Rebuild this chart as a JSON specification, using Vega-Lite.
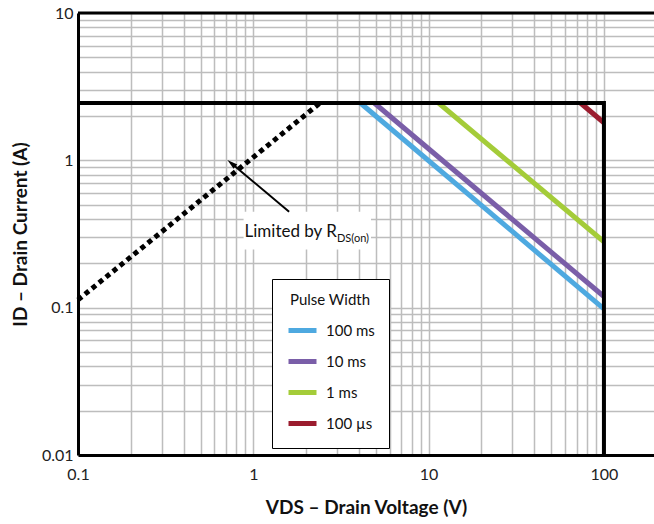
{
  "$schema": "https://vega.github.io/schema/vega-lite/v6.json",
  "width": 576,
  "height": 442,
  "autosize": {"type": "none"},
  "padding": {"left": 78, "top": 13, "right": 0, "bottom": 69},
  "config": {
    "view": {"stroke": null},
    "font": "Lato, Roboto, sans-serif"
  },
  "datasets": {
    "curves": [
      {"pulse": "100 ms", "v": 4.08, "i": 2.45},
      {"pulse": "100 ms", "v": 100, "i": 0.098},
      {"pulse": "10 ms", "v": 4.9, "i": 2.45},
      {"pulse": "10 ms", "v": 100, "i": 0.119},
      {"pulse": "1 ms", "v": 11.4, "i": 2.45},
      {"pulse": "1 ms", "v": 100, "i": 0.28},
      {"pulse": "100 µs", "v": 73.5, "i": 2.45},
      {"pulse": "100 µs", "v": 100, "i": 1.8}
    ],
    "boundary": [
      {"k": 1, "v": 0.1, "i": 2.45},
      {"k": 2, "v": 100, "i": 2.45},
      {"k": 3, "v": 100, "i": 0.01}
    ],
    "rds": [
      {"v": 0.1, "i": 0.113},
      {"v": 2.4, "i": 2.45}
    ],
    "one": [{"a": 1}]
  },
  "layer": [
    {
      "data": {"name": "one"},
      "mark": {"type": "rect", "fill": "white", "stroke": null},
      "encoding": {
        "x": {"datum": 0.88, "type": "quantitative", "scale": {"type": "log", "domain": [0.1, 193], "nice": false},
          "axis": {
            "values": [0.1,0.2,0.3,0.4,0.5,0.6,0.7,0.8,0.9,1,2,3,4,5,6,7,8,9,10,20,30,40,50,60,70,80,90,100],
            "grid": true, "gridColor": "#bdbdbd", "gridWidth": 1.5,
            "ticks": false, "domain": true, "domainColor": "black", "domainWidth": 3,
            "labelExpr": "abs(log(datum.value)/LN10 - round(log(datum.value)/LN10)) < 0.001 ? format(datum.value, '~g') : ''",
            "labelOverlap": false, "labelBound": false, "labelFlush": false,
            "labelFontSize": 16, "labelColor": "#222", "labelPadding": 11,
            "title": "VDS – Drain Voltage (V)", "titleFontSize": 19, "titleFontWeight": "bold", "titleColor": "#111", "titlePadding": 16
          }},
        "x2": {"datum": 4.69},
        "y": {"datum": 0.448, "type": "quantitative", "scale": {"type": "log", "domain": [0.01, 10], "nice": false},
          "axis": {
            "values": [0.01,0.02,0.03,0.04,0.05,0.06,0.07,0.08,0.09,0.1,0.2,0.3,0.4,0.5,0.6,0.7,0.8,0.9,1,2,3,4,5,6,7,8,9,10],
            "grid": true, "gridColor": "#bdbdbd", "gridWidth": 1.5,
            "ticks": false, "domain": true, "domainColor": "black", "domainWidth": 3,
            "labelExpr": "abs(log(datum.value)/LN10 - round(log(datum.value)/LN10)) < 0.001 ? format(datum.value, '~g') : ''",
            "labelOverlap": false, "labelBound": false, "labelFlush": false,
            "labelFontSize": 16, "labelColor": "#222", "labelPadding": 5,
            "title": "ID – Drain Current (A)", "titleFontSize": 19, "titleFontWeight": "bold", "titleColor": "#111", "titlePadding": 11
          }},
        "y2": {"datum": 0.248}
      }
    },
    {
      "data": {"name": "curves"},
      "mark": {"type": "line", "strokeWidth": 5},
      "encoding": {
        "x": {"field": "v", "type": "quantitative"},
        "y": {"field": "i", "type": "quantitative"},
        "color": {"field": "pulse", "type": "nominal",
          "scale": {"domain": ["100 ms", "10 ms", "1 ms", "100 µs"], "range": ["#4ea9e0", "#7a5ea8", "#a4cc39", "#9b1c2e"]},
          "legend": {
            "orient": "none", "legendX": 194, "legendY": 266,
            "title": "Pulse Width", "titleFontSize": 15, "titleFontWeight": "normal", "titleColor": "#111", "titleAnchor": "middle", "titlePadding": 6,
            "labelFontSize": 15, "labelColor": "#111", "labelOffset": 7,
            "symbolType": "stroke", "symbolSize": 784, "symbolStrokeWidth": 5,
            "rowPadding": 4, "padding": 14,
            "fillColor": "white", "strokeColor": "black"
          }}
      }
    },
    {
      "data": {"name": "boundary"},
      "mark": {"type": "line", "color": "black", "strokeWidth": 4, "strokeJoin": "miter"},
      "encoding": {
        "x": {"field": "v", "type": "quantitative"},
        "y": {"field": "i", "type": "quantitative"},
        "order": {"field": "k"}
      }
    },
    {
      "data": {"name": "rds"},
      "mark": {"type": "line", "color": "black", "strokeWidth": 5, "strokeDash": [5, 4]},
      "encoding": {
        "x": {"field": "v", "type": "quantitative"},
        "y": {"field": "i", "type": "quantitative"}
      }
    },
    {
      "data": {"name": "one"},
      "mark": {"type": "rule", "color": "black", "strokeWidth": 3},
      "encoding": {"y": {"datum": 10}}
    },
    {
      "data": {"name": "one"},
      "mark": {"type": "rule", "color": "black", "strokeWidth": 2},
      "encoding": {
        "x": {"datum": 1.6}, "y": {"datum": 0.448},
        "x2": {"datum": 0.746}, "y2": {"datum": 0.959}
      }
    },
    {
      "data": {"name": "one"},
      "mark": {"type": "point", "shape": "M0,-1L0.55,1L-0.55,1Z", "filled": true, "color": "black", "size": 110, "angle": 310, "opacity": 1},
      "encoding": {"x": {"datum": 0.75}, "y": {"datum": 0.955}}
    },
    {
      "data": {"name": "one"},
      "mark": {"type": "text", "text": "Limited by R", "align": "right", "baseline": "alphabetic", "fontSize": 17, "color": "#111"},
      "encoding": {"x": {"datum": 3.0}, "y": {"datum": 0.304}}
    },
    {
      "data": {"name": "one"},
      "mark": {"type": "text", "text": "DS(on)", "align": "left", "baseline": "alphabetic", "fontSize": 11, "color": "#111"},
      "encoding": {"x": {"datum": 3.0}, "y": {"datum": 0.281}}
    }
  ]
}
